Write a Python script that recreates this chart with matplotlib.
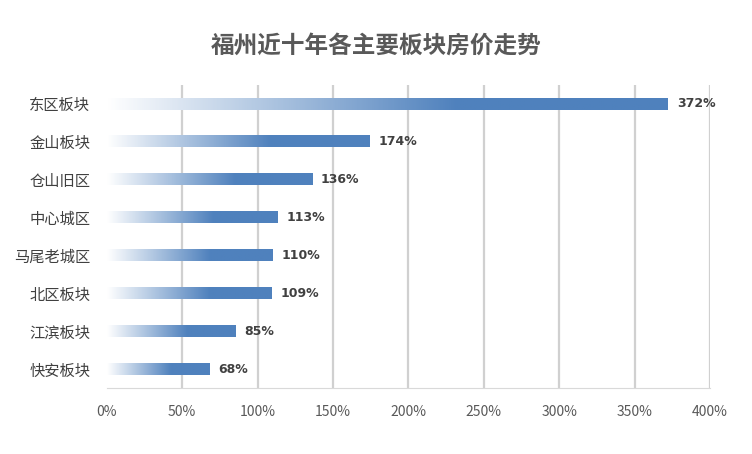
import numpy as np
import matplotlib.pyplot as plt
from matplotlib.colors import LinearSegmentedColormap

categories = ["东区板块", "金山板块", "仓山旧区", "中心城区", "马尾老城区", "北区板块", "江滨板块", "快安板块"]
growth = [372, 174, 136, 113, 110, 109, 85, 68]
ticks = [0, 50, 100, 150, 200, 250, 300, 350, 400]

plt.rcParams["font.family"] = ["Noto Sans CJK SC", "DejaVu Sans"]

fig = plt.figure(figsize=(7.52, 4.54), dpi=100, facecolor="white")
ax = fig.add_axes((0.142, 0.145, 0.802, 0.668))

for t in ticks[1:]:
    ax.axvline(t, color="#d0d0d0", linewidth=1.6, zorder=0)

cmap = LinearSegmentedColormap.from_list("bar", ["#ffffff", "#4f81bd"])
ramp = np.clip(np.linspace(0, 1, 256) * 1.6, 0, 1)[None, :]
h = 0.3
for i, v in enumerate(growth):
    ax.imshow(ramp, cmap=cmap, vmin=0, vmax=1, aspect="auto",
              extent=(0, v, i + h / 2, i - h / 2), zorder=2)
    ax.text(v + 6, i, f"{v}%", va="center", ha="left", fontsize=9,
            fontweight="bold", color="#404040", family="DejaVu Sans")
ax.set_xlim(0, 400)
ax.set_ylim(len(categories) - 0.5, -0.5)

ax.set_yticks(range(len(categories)))
ax.set_yticklabels(categories, fontsize=11, color="#404040")
ax.set_xticks(ticks)
ax.set_xticklabels([f"{t}%" for t in ticks], fontsize=10, color="#595959")
ax.tick_params(length=0, pad=12)
ax.tick_params(axis="y", pad=12)
for side in ["top", "right", "left"]:
    ax.spines[side].set_visible(False)
ax.spines["bottom"].set_color("#d9d9d9")

fig.text(0.5, 0.9, "福州近十年各主要板块房价走势", ha="center", va="center",
         fontsize=17, fontweight="bold", color="#595959")

fig.savefig("out.png", dpi=100, facecolor="white")
